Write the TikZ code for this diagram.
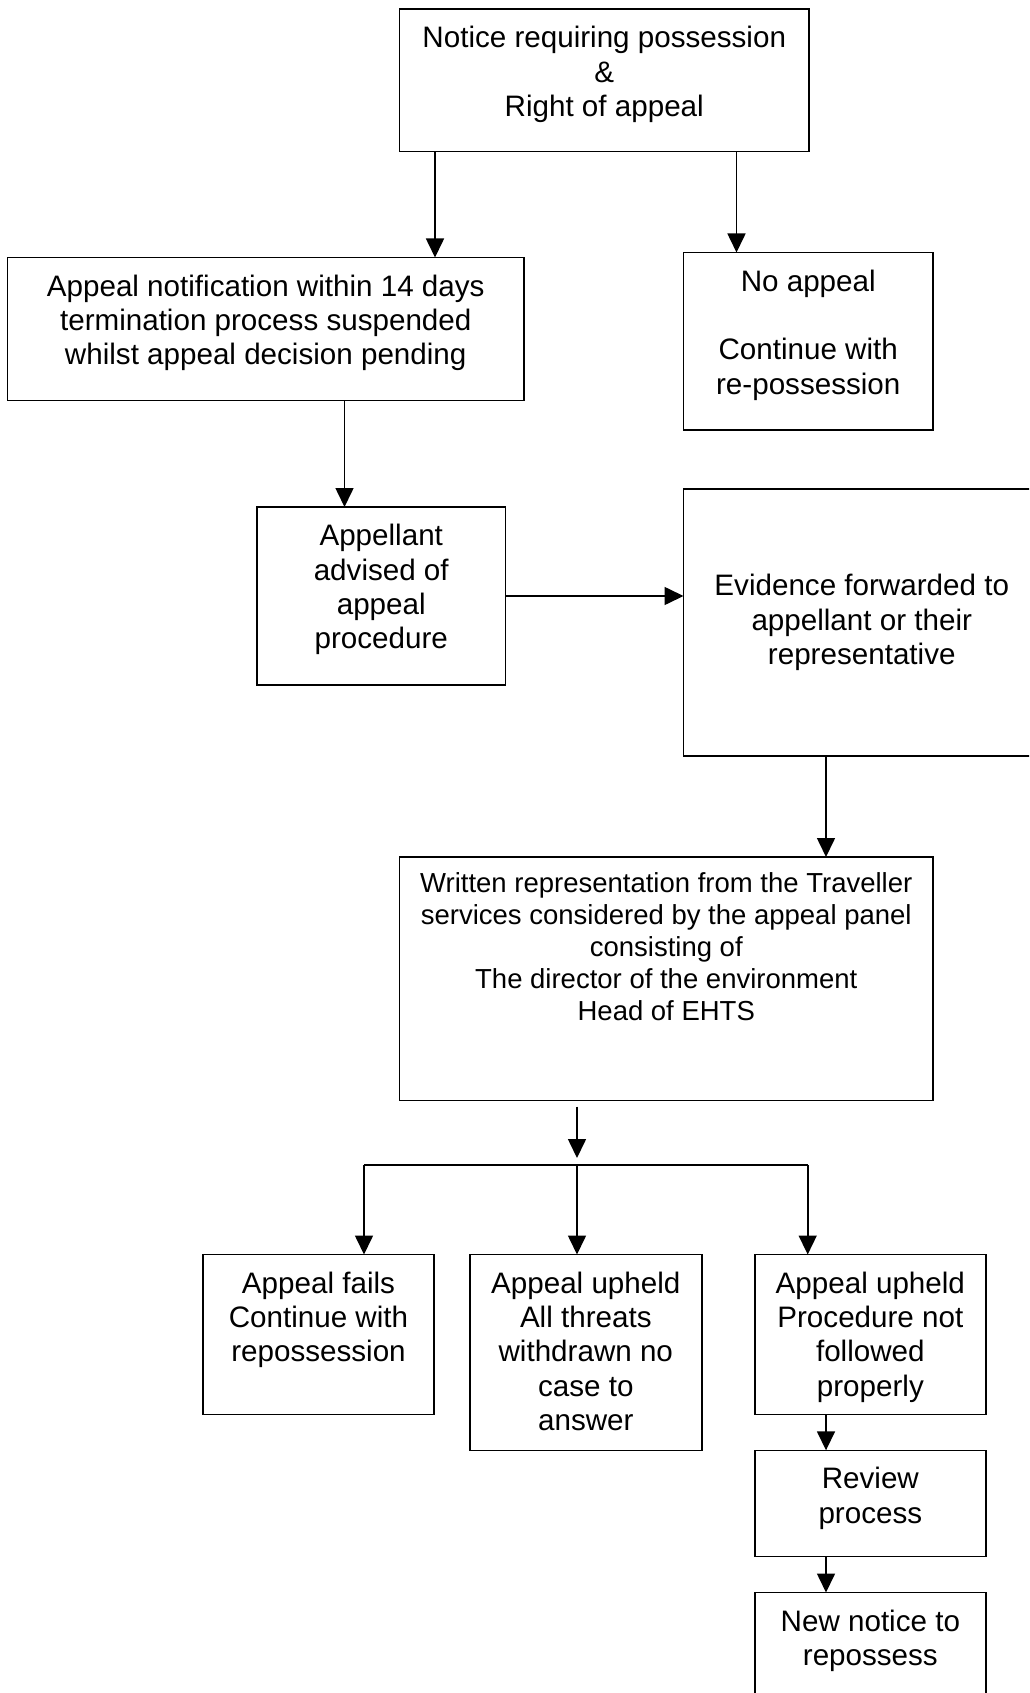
\documentclass[tikz,border=0pt]{standalone}
\usepackage{fontspec}
\setmainfont{Liberation Sans}
\usetikzlibrary{arrows.meta}
\newcommand\boxfont{\fontsize{29.6}{34.4}\selectfont}
\newcommand\panelfont{\fontsize{27.5}{31.9}\selectfont}
\begin{document}
\begin{tikzpicture}[x=1pt, y=-1pt,
  box/.style={draw, line width=1.6pt, inner sep=0pt, outer sep=0pt, anchor=north west},
  txt/.style={anchor=north, align=center, inner sep=0pt, font=\boxfont},
  arr/.style={line width=1.6pt, -{Triangle[length=19pt, width=18pt]}},
  link/.style={line width=1.6pt}]
\useasboundingbox (0,0) rectangle (1029,1693);
\clip (0,0) rectangle (1029,1693);

% boxes
\node[box, minimum width=409.5pt, minimum height=142.5pt] (top) at (399.5,9) {};
\node[box, minimum width=516.5pt, minimum height=143pt] (notif) at (7.5,257.5) {};
\node[box, minimum width=249.5pt, minimum height=177.5pt] (noap) at (683.5,252.5) {};
\node[box, minimum width=248.5pt, minimum height=178pt] (appel) at (257,507) {};
\node[box, minimum width=356.5pt, minimum height=267pt] (evid) at (683.5,489) {};
\node[box, minimum width=533.5pt, minimum height=243.5pt] (written) at (399.5,857) {};
\node[box, minimum width=231pt, minimum height=160pt] (fails) at (203,1254.5) {};
\node[box, minimum width=232.2pt, minimum height=196pt] (threats) at (469.7,1254.5) {};
\node[box, minimum width=231.1pt, minimum height=160pt] (proc) at (754.8,1254.5) {};
\node[box, minimum width=231.1pt, minimum height=106.2pt] (review) at (754.8,1450.3) {};
\node[box, minimum width=231.1pt, minimum height=130pt] (newn) at (754.8,1592.5) {};

% texts
\node[txt] (topT) at ([yshift=-14.4pt]top.north) {\strut Notice requiring possession\\ \&\\ Right of appeal};
\node[txt] (notifT) at ([yshift=-14.4pt]notif.north) {\strut Appeal notification within 14 days\\ termination process suspended\\ whilst appeal decision pending};
\node[txt] (noapT) at ([yshift=-14.4pt]noap.north) {\strut No appeal\\ \mbox{}\\ Continue with\\ re-possession};
\node[txt] (appelT) at ([yshift=-14.4pt]appel.north) {\strut Appellant\\ advised of\\ appeal\\ procedure};
\node[txt, anchor=center] (evidT) at (evid.center) {Evidence forwarded to\\ appellant or their\\ representative};
\node[txt, font=\panelfont] (writtenT) at ([yshift=-13.2pt]written.north) {\strut Written representation from the Traveller\\ services considered by the appeal panel\\ consisting of\\ The director of the environment\\ Head of EHTS};
\node[txt] (failsT) at ([yshift=-14.4pt]fails.north) {\strut Appeal fails\\ Continue with\\ repossession};
\node[txt] (threatsT) at ([yshift=-14.4pt]threats.north) {\strut Appeal upheld\\ All threats\\ withdrawn no\\ case to\\ answer};
\node[txt] (procT) at ([yshift=-14.4pt]proc.north) {\strut Appeal upheld\\ Procedure not\\ followed\\ properly};
\node[txt] (reviewT) at ([yshift=-14.4pt]review.north) {\strut Review\\ process};
\node[txt] (newnT) at ([yshift=-14.4pt]newn.north) {\strut New notice to\\ repossess};

% connector start points
\coordinate (a1) at ([xshift=35.5pt]top.south west);
\coordinate (a2) at ([xshift=337pt]top.south west);
\coordinate (a3) at ([xshift=337pt]notif.south west);
\coordinate (a5) at ([xshift=142.5pt]evid.south west);
\coordinate (a7) at ([xshift=71.2pt]proc.south west);
\coordinate (a8) at ([xshift=71.2pt]review.south west);
\coordinate (split) at (577,1165);
\coordinate (bl) at (364,1165);
\coordinate (br) at (807.7,1165);
\coordinate (s0) at ([yshift=-6pt]written.south -| split);

% connectors
\draw[arr] (a1) -- (a1 |- notif.north);
\draw[arr] (a2) -- (a2 |- noap.north);
\draw[arr] (a3) -- (a3 |- appel.north);
\draw[arr] (appel.east) -- (appel.east -| evid.west);
\draw[arr] (a5) -- (a5 |- written.north);
\draw[arr] (s0) -- ([yshift=7pt]split);
\draw[link] (bl) -- (br);
\draw[arr] (bl) -- (bl |- fails.north);
\draw[arr] (split) -- (split |- threats.north);
\draw[arr] (br) -- (br |- proc.north);
\draw[arr] (a7) -- (a7 |- review.north);
\draw[arr] (a8) -- (a8 |- newn.north);
\end{tikzpicture}
\end{document}
